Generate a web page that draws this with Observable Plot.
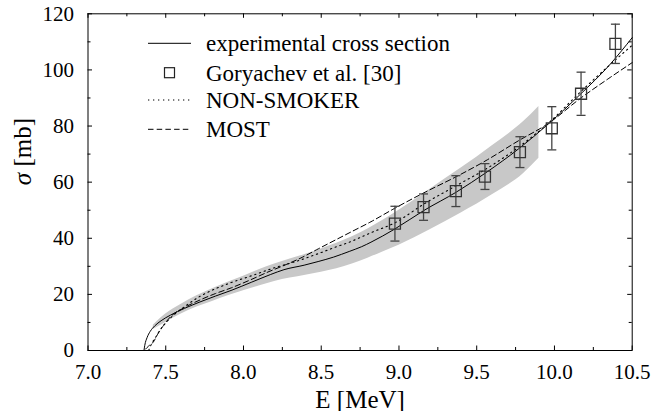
<!DOCTYPE html>
<html>
<head>
<meta charset="utf-8">
<script src="https://cdn.jsdelivr.net/npm/d3@7"></script>
<script src="https://cdn.jsdelivr.net/npm/@observablehq/plot@0.6"></script>
<style>
  html, body { margin: 0; padding: 0; background: #fff; }
  #wrap { position: relative; width: 653px; height: 411px; font-family: "Liberation Serif", "Times New Roman", serif; }
  #wrap svg text { font-family: "Liberation Serif", "Times New Roman", serif; }
  #legend { position: absolute; left: 0; top: 0; }
</style>
</head>
<body>
<div id="wrap"></div>
<script>
// ---- data ----
const expE = [7.36,7.365,7.38,7.40,7.43,7.47,7.53,7.62,7.72,7.82,7.92,8.05,8.175,8.26,8.39,8.48,8.58,8.68,8.76,8.82,8.97,9.16,9.37,9.56,9.77,9.96,10.17,10.35,10.5];
const expS = [0,1.8,4.6,6.8,8.8,10.6,12.6,15.0,17.3,19.4,21.4,24.3,27.1,28.8,30.4,31.7,33.3,35.3,37.0,38.6,43.2,49.9,56.5,63.4,71.9,80.7,91.5,101.5,111.5];

const nsE = [7.39,7.41,7.435,7.46,7.49,7.55,7.62,7.72,7.82,7.92,8.05,8.2,8.33,8.48,8.6,8.69,8.82,8.97,9.16,9.37,9.56,9.77,9.97,10.17,10.35,10.5];
const nsS = [0,2.5,4.7,7.0,9.2,12.6,15.6,19.3,22.0,24.2,26.6,29.5,31.6,34.5,37.0,38.8,42.0,45.4,52.2,58.8,64.7,72.5,81.5,92.3,101.5,108.8];

const mostE = [7.37,7.39,7.42,7.45,7.48,7.53,7.62,7.72,7.82,7.92,8.05,8.15,8.26,8.37,8.48,8.69,8.82,8.97,9.16,9.37,9.56,9.77,9.96,10.17,10.35,10.5];
const mostS = [0.5,1.6,3.0,6.0,8.5,12.0,15.3,18.0,20.3,22.3,25.3,27.8,30.3,33.0,36.2,42.2,45.9,50.6,56.2,62.0,67.7,74.8,80.9,90.0,97.0,102.6];

const bandE  = [7.42,7.5,7.6,7.7,7.8,7.9,8.0,8.1,8.2,8.3,8.4,8.5,8.6,8.7,8.8,8.9,9.0,9.2,9.4,9.6,9.8,9.9];
const bandLo = [7.5,10.0,13.0,15.5,17.5,19.5,21.3,23.0,24.6,25.8,26.8,27.9,29.1,30.8,32.9,35.2,37.5,43.0,49.0,55.5,63.0,68.5];
const bandHi = [9.0,13.0,16.5,19.5,22.0,24.3,26.5,28.8,30.8,32.6,34.3,36.2,38.2,40.5,43.3,46.5,50.0,57.5,65.0,73.0,81.5,87.0];

const gorE   = [8.974,9.158,9.366,9.553,9.778,9.983,10.171,10.392];
const gorS   = [45.2,51.1,56.8,62.0,70.7,79.2,91.5,109.3];
const gorErr = [6.2,4.7,5.5,4.6,5.5,7.7,7.7,7.0];

const xMajor = [7.0,7.5,8.0,8.5,9.0,9.5,10.0,10.5];
const xMinor = [7.25,7.75,8.25,8.75,9.25,9.75,10.25];
const yMajor = [0,20,40,60,80,100,120];
const yMinor = [10,30,50,70,90,110];

const legendNames = ["experimental cross section","Goryachev et al. [30]","NON-SMOKER","MOST"];

// ---- tables ----
const expData  = expE.map((E,i)=>({E, s: expS[i]}));
const nsData   = nsE.map((E,i)=>({E, s: nsS[i]}));
const mostData = mostE.map((E,i)=>({E, s: mostS[i]}));
const band     = bandE.map((E,i)=>({E, lo: bandLo[i], hi: bandHi[i]}));
const gor      = gorE.map((E,i)=>({E, s: gorS[i], err: gorErr[i]}));

// ---- layout ----
const W = 653, H = 411;
const mL = 87.5, mR = 21.3, mT = 13.3, mB = 61;
const xDom = [7.0, 10.5], yDom = [0, 120];
const pxX = (xDom[1]-xDom[0])/(W-mL-mR);   // data units per px in x
const pxY = (yDom[1]-yDom[0])/(H-mT-mB);   // data units per px in y
const majLen = 4.5, minLen = 3, capHalf = 4.5;

const DOT = "1.3,3.7", DASH = "5.5,3.2";
const FONT = "Liberation Serif";

const plot = Plot.plot({
  width: W, height: H,
  marginLeft: mL, marginRight: mR, marginTop: mT, marginBottom: mB,
  style: {fontFamily: FONT, background: "white"},
  x: {domain: xDom},
  y: {domain: yDom},
  marks: [
    Plot.areaY(band, {x: "E", y1: "lo", y2: "hi", fill: "#c8c8c8", curve: "monotone-x"}),
    Plot.line(mostData, {x: "E", y: "s", stroke: "black", strokeWidth: 1, strokeDasharray: DASH, curve: "monotone-x"}),
    Plot.line(nsData, {x: "E", y: "s", stroke: "black", strokeWidth: 1.1, strokeDasharray: DOT, curve: "monotone-x"}),
    Plot.line(expData, {x: "E", y: "s", stroke: "black", strokeWidth: 1, curve: "monotone-x"}),
    // error bars
    Plot.ruleX(gor, {x: "E", y1: d => d.s - d.err, y2: d => d.s + d.err, stroke: "#444", strokeWidth: 1.3}),
    Plot.link(gor, {x1: d => d.E - capHalf*pxX, x2: d => d.E + capHalf*pxX, y1: d => d.s + d.err, y2: d => d.s + d.err, stroke: "#444", strokeWidth: 1.3}),
    Plot.link(gor, {x1: d => d.E - capHalf*pxX, x2: d => d.E + capHalf*pxX, y1: d => d.s - d.err, y2: d => d.s - d.err, stroke: "#444", strokeWidth: 1.3}),
    Plot.dot(gor, {x: "E", y: "s", symbol: "square", r: 6.2, stroke: "#333", strokeWidth: 1.3, fill: "none"}),
    // frame
    Plot.frame({stroke: "black", strokeWidth: 1}),
    // inward ticks bottom/top
    Plot.ruleX(xMajor, {x: d => d, y1: yDom[0], y2: yDom[0] + majLen*pxY, stroke: "black"}),
    Plot.ruleX(xMajor, {x: d => d, y1: yDom[1], y2: yDom[1] - majLen*pxY, stroke: "black"}),
    Plot.ruleX(xMinor, {x: d => d, y1: yDom[0], y2: yDom[0] + minLen*pxY, stroke: "black"}),
    Plot.ruleX(xMinor, {x: d => d, y1: yDom[1], y2: yDom[1] - minLen*pxY, stroke: "black"}),
    // inward ticks left/right
    Plot.ruleY(yMajor, {y: d => d, x1: xDom[0], x2: xDom[0] + majLen*pxX, stroke: "black"}),
    Plot.ruleY(yMajor, {y: d => d, x1: xDom[1], x2: xDom[1] - majLen*pxX, stroke: "black"}),
    Plot.ruleY(yMinor, {y: d => d, x1: xDom[0], x2: xDom[0] + minLen*pxX, stroke: "black"}),
    Plot.ruleY(yMinor, {y: d => d, x1: xDom[1], x2: xDom[1] - minLen*pxX, stroke: "black"}),
    // tick labels
    Plot.axisX({ticks: xMajor, tickFormat: d => d.toFixed(1), tickSize: 0, tickPadding: 14, fontSize: 21, fontFamily: FONT, fill: "black", label: null}),
    Plot.axisY({ticks: yMajor, tickFormat: d => String(d), tickSize: 0, tickPadding: 14, fontSize: 21, fontFamily: FONT, fill: "black", label: null}),
    // axis titles
    Plot.text(["E [MeV]"], {frameAnchor: "bottom", dy: 49, lineAnchor: "middle", fontSize: 25, fontFamily: FONT, fill: "black"}),
    Plot.text(["σ [mb]"], {frameAnchor: "left", dx: -65, dy: 3, rotate: -90, lineAnchor: "middle", fontSize: 25, fontFamily: FONT, fill: "black", className: "ylab"})
  ]
});

// italic sigma
d3.select(plot).selectAll(".ylab text").each(function() {
  const t = d3.select(this);
  const txt = t.text();
  if (txt.startsWith("σ")) {
    t.text(null);
    t.append("tspan").attr("font-style", "italic").text("σ");
    t.append("tspan").text(txt.slice(1));
  }
});

const wrap = document.getElementById("wrap");
wrap.appendChild(plot);

// ---- legend overlay ----
const rowY = [43.3, 72.7, 100, 129.3];
const sampleX1 = 148, sampleX2 = 191, textX = 206;
const lg = d3.select(wrap).append("svg").attr("id", "legend")
  .attr("width", W).attr("height", H)
  .style("pointer-events", "none");
legendNames.forEach((name, i) => {
  const g = lg.append("g").attr("transform", `translate(0,${rowY[i]})`);
  if (i === 1) {
    g.append("rect").attr("x", (sampleX1+sampleX2)/2 - 5).attr("y", -5).attr("width", 10).attr("height", 10)
      .attr("fill", "none").attr("stroke", "#222").attr("stroke-width", 1.2);
  } else {
    g.append("line").attr("x1", sampleX1).attr("x2", sampleX2).attr("y1", 0).attr("y2", 0)
      .attr("stroke", "black").attr("stroke-width", i === 2 ? 1.1 : 1)
      .attr("stroke-dasharray", i === 2 ? DOT : i === 3 ? DASH : null);
  }
  g.append("text").attr("x", textX).attr("y", 0).attr("dy", "0.35em")
    .attr("font-family", FONT).attr("font-size", 23).attr("fill", "black").text(name);
});
</script>
</body>
</html>
